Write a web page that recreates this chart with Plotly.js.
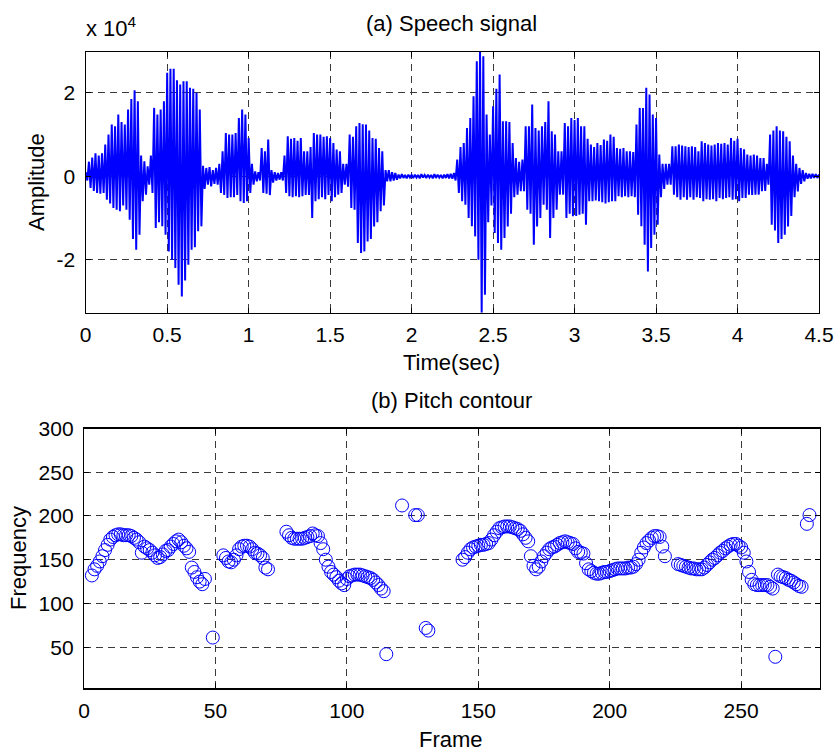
<!DOCTYPE html>
<html>
<head>
<meta charset="utf-8">
<script src="https://cdn.plot.ly/plotly-3.0.1.min.js"></script>
<style>html,body{margin:0;padding:0;background:#fff;}#chart{width:834px;height:751px;}</style>
</head>
<body>
<div id="chart"></div>
<script>
// ---- (a) Speech signal: positive / negative peak envelope per 0.02 s frame (units of 1e4) ----
const sampleStep = 0.02; // seconds between envelope readings, starting at t = 0
const ampHi = [
  0.1, 0.35, 0.45, 0.55, 0.5,
  0.55, 0.76, 1.0, 1.24, 1.2,
  1.48, 1.3, 1.24, 1.6, 1.85,
  2.06, 1.8, 0.5, 0.36, 0.24,
  0.5, 1.64, 1.48, 1.6, 1.8,
  2.48, 2.58, 2.58, 2.3, 2.2,
  2.28, 2.28, 2.12, 2.1, 2.0,
  1.6, 0.25, 0.2, 0.22, 0.15,
  0.2, 0.3, 0.6, 1.04, 1.0,
  1.0, 1.04, 1.4, 1.6, 1.48,
  0.92, 0.3, 0.12, 0.1, 0.68,
  0.6, 0.88, 0.15, 0.1, 0.08,
  0.1, 0.5, 0.96, 0.9, 0.92,
  0.85, 0.92, 0.6, 0.6, 0.7,
  1.04, 1.0, 1.0, 0.95, 0.96,
  0.92, 0.8, 0.64, 0.6, 0.3,
  0.3, 1.0, 0.95, 1.2, 1.28,
  1.25, 1.24, 1.1, 0.92, 0.9,
  0.68, 0.6, 0.15, 0.15, 0.1,
  0.08, 0.04, 0.05, 0.03, 0.04,
  0.03, 0.04, 0.03, 0.05, 0.03,
  0.04, 0.03, 0.05, 0.04, 0.03,
  0.04, 0.05, 0.06, 0.08, 0.4,
  0.7, 0.8, 1.16, 1.4, 1.92,
  2.76, 2.98, 2.88, 1.48, 1.0,
  1.68, 2.1, 2.44, 1.32, 1.32,
  1.3, 0.8, 0.44, 0.35, 0.4,
  1.2, 1.2, 1.72, 1.16, 1.1,
  1.2, 1.3, 1.8, 1.08, 1.0,
  0.6, 0.6, 1.28, 1.2, 1.4,
  1.35, 1.4, 1.2, 1.2, 0.9,
  0.76, 0.7, 0.8, 0.75, 0.88,
  0.85, 1.0, 0.95, 0.68, 0.66,
  0.68, 0.6, 0.6, 0.58, 1.24,
  1.64, 1.64, 2.12, 1.96, 1.48,
  1.4, 0.52, 0.3, 0.3, 0.3,
  0.72, 0.72, 0.76, 0.74, 0.72,
  0.7, 0.72, 0.7, 0.6, 0.84,
  0.8, 0.76, 0.74, 0.76, 0.8,
  0.78, 0.8, 0.76, 0.92, 0.85,
  0.9, 0.68, 0.65, 0.52, 0.5,
  0.52, 0.5, 0.44, 0.44, 0.3,
  1.0, 1.1, 1.2, 1.1, 1.08,
  0.95, 0.84, 0.5, 0.3, 0.2,
  0.15, 0.08, 0.06, 0.06, 0.05,
  0.04
];
const ampLo = [
  -0.1, -0.28, -0.35, -0.4, -0.42,
  -0.4, -0.56, -0.65, -0.76, -0.8,
  -0.84, -0.7, -0.8, -1.04, -1.5,
  -1.76, -1.4, -0.6, -0.44, -0.2,
  -0.4, -1.24, -1.1, -1.2, -1.4,
  -1.8, -2.0, -2.2, -2.6, -2.88,
  -2.5, -2.12, -1.76, -1.7, -1.32,
  -1.2, -0.3, -0.2, -0.24, -0.18,
  -0.2, -0.4, -0.45, -0.52, -0.5,
  -0.5, -0.45, -0.6, -0.64, -0.6,
  -0.4, -0.2, -0.12, -0.1, -0.4,
  -0.42, -0.45, -0.15, -0.1, -0.08,
  -0.1, -0.4, -0.48, -0.5, -0.48,
  -0.5, -0.48, -0.45, -0.45, -1.0,
  -0.6, -0.55, -0.5, -0.55, -0.45,
  -0.6, -0.5, -0.44, -0.4, -0.2,
  -0.25, -0.76, -0.8, -1.6, -1.84,
  -1.8, -1.56, -1.5, -1.2, -1.1,
  -0.84, -0.7, -0.12, -0.12, -0.1,
  -0.08, -0.05, -0.04, -0.05, -0.03,
  -0.04, -0.03, -0.05, -0.03, -0.04,
  -0.03, -0.05, -0.04, -0.03, -0.05,
  -0.04, -0.05, -0.06, -0.1, -0.4,
  -0.6, -0.68, -1.0, -1.2, -1.44,
  -2.0, -3.27, -2.84, -1.1, -0.7,
  -1.36, -1.6, -1.76, -1.48, -1.2,
  -0.9, -0.5, -0.44, -0.36, -0.36,
  -0.8, -0.9, -1.64, -1.2, -1.0,
  -0.68, -0.8, -1.48, -1.0, -0.8,
  -0.44, -0.44, -1.0, -0.9, -0.96,
  -0.95, -0.92, -0.9, -1.16, -0.6,
  -0.6, -0.58, -0.6, -0.62, -0.65,
  -0.62, -0.6, -0.6, -0.48, -0.5,
  -0.48, -0.5, -0.48, -0.5, -0.92,
  -1.2, -1.64, -2.28, -1.72, -1.4,
  -1.16, -0.5, -0.3, -0.2, -0.2,
  -0.44, -0.5, -0.56, -0.5, -0.56,
  -0.5, -0.56, -0.5, -0.52, -0.6,
  -0.55, -0.56, -0.55, -0.6, -0.52,
  -0.55, -0.52, -0.5, -0.56, -0.55,
  -0.6, -0.52, -0.52, -0.44, -0.45,
  -0.44, -0.44, -0.36, -0.35, -0.2,
  -1.16, -1.3, -1.6, -1.5, -1.4,
  -1.2, -0.95, -0.5, -0.36, -0.18,
  -0.12, -0.06, -0.05, -0.04, -0.04,
  -0.02
];
const timeTicks = [0, 0.5, 1, 1.5, 2, 2.5, 3, 3.5, 4, 4.5];
const ampTicks = [-2, 0, 2];

// ---- (b) Pitch contour: frequency per frame, starting at frame 1 (null = unvoiced) ----
const firstFrame = 1;
const pitch = [
  null, null, 132, 139, 143, 148, 154, 161, 167, 173,
  176, 178, 179, 179, 178, 178, 178, 177, 175, 173,
  170, 158, 165, 163, 161, 158, 155, 152, 153, 156,
  160, 161, 165, 168, 171, 173, 170, 166, 163, 159,
  141, 136, 130, 125, 122, 128, null, null, 61, null,
  null, null, 155, 152, 148, 147, 150, 155, 162, 165,
  166, 166, 165, 162, 158, 157, 155, 152, 141, 139,
  null, null, null, null, null, null, 182, 178, 175, 174,
  174, 174, 174, 175, 176, 177, 180, 178, 177, 169,
  162, 150, 142, 136, 133, 130, 126, 123, 121, 128,
  131, 132, 133, 133, 133, 132, 131, 130, 129, 127,
  124, 121, 117, 114, 42, null, null, null, null, null,
  212, null, null, null, null, 201, 201, null, null, 72,
  69, null, null, null, null, null, null, null, null, null,
  null, null, null, 150, 153, 158, 162, 164, 165, 166,
  167, 167, 168, 169, 173, 178, 182, 186, 187, 188,
  188, 188, 187, 186, 185, 183, 179, 175, 171, 154,
  143, 139, 142, 148, 154, 158, 162, 164, 165, 167,
  169, 170, 171, 170, 169, 168, 163, 159, 158, 157,
  146, 139, 137, 135, 134, 134, 135, 136, 136, 137,
  138, 139, 140, 140, 140, 140, 141, 141, 142, 145,
  150, 158, 164, 169, 172, 175, 177, 177, 176, 165,
  154, null, null, null, null, 145, 144, 143, 142, 141,
  140, 140, 139, 139, 139, 141, 144, 147, 150, 152,
  155, 158, 160, 163, 165, 167, 168, 168, 166, 164,
  158, 148, 136, 127, 122, 121, 121, 121, 121, 121,
  119, 117, 39, 133, 131, 130, 129, 127, 126, 124,
  122, 120, 119, null, 191, 201
];
const frameTicks = [0, 50, 100, 150, 200, 250];
const freqTicks = [50, 100, 150, 200, 250, 300];

// ---- build ----
const W = 834, H = 751;
const px = v => v / W;
const py = v => 1 - v / H;

// waveform: alternate positive and negative peaks
const wave = [];
for (let i = 0; i < ampHi.length; i++) { wave.push(ampHi[i], ampLo[i]); }

const FONT = 'Liberation Sans, Arial, Helvetica, sans-serif';
const blue = '#0000ff';
const gridCol = '#3a3a3a';
const dashStr = '7px,5px';
const TXT = 22, TICK = 21;

const traces = [
  { type: 'scatter', mode: 'lines', x0: 0, dx: sampleStep / 2, y: wave,
    line: { color: blue, width: 2 }, xaxis: 'x', yaxis: 'y', hoverinfo: 'skip' },
  { type: 'scatter', mode: 'markers', x0: firstFrame, dx: 1, y: pitch,
    marker: { symbol: 'circle-open', size: 13, color: blue, line: { width: 1, color: blue } },
    xaxis: 'x2', yaxis: 'y2', hoverinfo: 'skip' }
];

const axBase = {
  showline: true, linecolor: '#000', linewidth: 1.2, mirror: 'ticks',
  ticks: 'inside', ticklen: 5, tickcolor: '#000', tickwidth: 1,
  showgrid: true, gridcolor: gridCol, gridwidth: 1, griddash: dashStr,
  zeroline: false, tickfont: { family: FONT, size: TICK, color: '#000' },
  fixedrange: true
};

const layout = {
  width: W, height: H,
  margin: { l: 0, r: 0, t: 0, b: 0, pad: 0 },
  paper_bgcolor: '#fff', plot_bgcolor: '#fff',
  showlegend: false, hovermode: false,
  xaxis: Object.assign({}, axBase, {
    domain: [px(85.7), px(819)], range: [0, 4.5],
    tickmode: 'array', tickvals: timeTicks, ticktext: timeTicks.map(String),
    anchor: 'y', ticklabelstandoff: 3
  }),
  yaxis: Object.assign({}, axBase, {
    domain: [py(312.7), py(52)], range: [-3.27, 2.98],
    tickmode: 'array', tickvals: ampTicks, ticktext: ampTicks.map(String),
    anchor: 'x', ticklabelstandoff: 5
  }),
  xaxis2: Object.assign({}, axBase, {
    domain: [px(84), px(820)], range: [0, 280],
    tickmode: 'array', tickvals: frameTicks, ticktext: frameTicks.map(String),
    anchor: 'y2', ticklabelstandoff: 3
  }),
  yaxis2: Object.assign({}, axBase, {
    domain: [py(688.3), py(428.5)], range: [3, 300],
    tickmode: 'array', tickvals: freqTicks, ticktext: freqTicks.map(String),
    anchor: 'x2', ticklabelstandoff: 5
  }),
  annotations: [
    { text: '(a) Speech signal', x: px(451), y: py(24), xanchor: 'center', yanchor: 'middle' },
    { text: 'x 10<sup>4</sup>', x: px(84), y: py(27), xanchor: 'left', yanchor: 'middle' },
    { text: 'Amplitude', x: px(36), y: py(182), xanchor: 'center', yanchor: 'middle', textangle: -90 },
    { text: 'Time(sec)', x: px(451), y: py(363), xanchor: 'center', yanchor: 'middle' },
    { text: '(b) Pitch contour', x: px(451), y: py(400), xanchor: 'center', yanchor: 'middle' },
    { text: 'Frequency', x: px(18), y: py(558), xanchor: 'center', yanchor: 'middle', textangle: -90 },
    { text: 'Frame', x: px(451), y: py(739), xanchor: 'center', yanchor: 'middle' }
  ].map(a => Object.assign({ xref: 'paper', yref: 'paper', showarrow: false,
    font: { family: FONT, size: TXT, color: '#000' } }, a))
};

Plotly.newPlot('chart', traces, layout, { staticPlot: true, displayModeBar: false });
</script>
</body>
</html>
